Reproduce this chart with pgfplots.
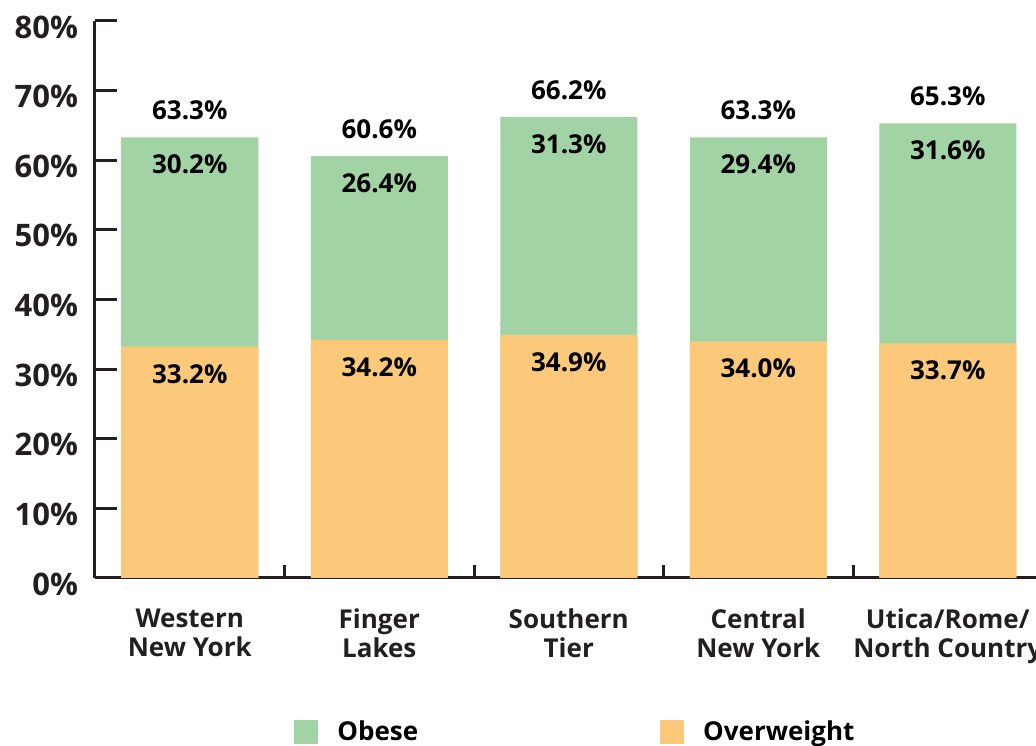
\documentclass[border=0pt]{standalone}
\usepackage{fontspec}
\setmainfont{Open Sans}
\usepackage{pgfplots}
\pgfplotsset{compat=1.18}
\definecolor{obese}{HTML}{A2D3A5}
\definecolor{overw}{HTML}{FCC97B}
\definecolor{ink}{HTML}{231F20}

% bar tops: total (overweight + obese) and overweight alone
\pgfplotstableread{
x  overw  obese  total
0  33.2   30.2   63.3
1  34.2   26.4   60.6
2  34.9   31.3   66.2
3  34.0   29.4   63.3
4  33.7   31.6   65.3
}\datatable

\begin{document}
\begin{tikzpicture}
\begin{axis}[
    name=ax,
    scale only axis,
    width=473.75pt, height=278.5pt,
    xmin=-0.5, xmax=4.5, ymin=0, ymax=80,
    ybar, bar width=68.5pt,
    axis x line=bottom, axis y line=left,
    axis line style={ink, line width=1.5pt, -},
    tick align=inside,
    tick style={ink, line width=1.5pt},
    major tick length=11pt,
    minor tick length=6.5pt,
    ytick={0,10,...,80},
    yticklabels={0\%,10\%,20\%,30\%,40\%,50\%,60\%,70\%,80\%},
    yticklabel style={font=\fontsize{15.5}{16}\selectfont\bfseries, text=ink, xshift=-5pt, yshift=-3pt},
    xtick={0,...,4},
    major x tick style={draw=none},
    minor xtick={0.5,1.5,2.5,3.5,4.5},
    xticklabels={{Western\\New York},{Finger\\Lakes},{Southern\\Tier},{Central\\New York},{Utica/Rome/\\North Country}},
    xticklabel style={align=center, anchor=north, yshift=-12pt, text=ink,
        font=\fontsize{13}{14.5}\selectfont\bfseries},
    nodes near coords={\pgfmathprintnumber[fixed, fixed zerofill, precision=1]{\pgfplotspointmeta}\%},
    /pgf/number format/assume math mode=true,
    every node near coord/.append style={font=\fontsize{13}{14}\selectfont\bfseries, text=black, anchor=center},
    legend image code/.code={\fill[#1] (0pt,-6pt) rectangle (12pt,6pt);},
    legend columns=2,
    legend style={at={(0,0)}, anchor=west, xshift=99.5pt, yshift=-77pt,
        draw=none, fill=none, inner sep=0pt,
        font=\fontsize{13}{14}\selectfont\bfseries,
        /tikz/every odd column/.append style={column sep=7.5pt},
        /tikz/every even column/.append style={column sep=119pt}},
]
\addlegendimage{fill=obese, draw=none}
\addlegendentry{Obese}
\addlegendimage{fill=overw, draw=none}
\addlegendentry{Overweight}

% full bar (green), with the total above it
\addplot[fill=obese, draw=none, bar shift=0pt, point meta=\thisrow{total},
    every node near coord/.append style={yshift=13.5pt}]
    table[x=x, y=total] {\datatable};
% overweight part (orange) over it
\addplot[fill=overw, draw=none, bar shift=0pt, point meta=\thisrow{overw},
    every node near coord/.append style={yshift=-13.5pt}]
    table[x=x, y=overw] {\datatable};
% obese share, written just under the top of the bar
\addplot[fill=none, draw=none, bar shift=0pt, point meta=\thisrow{obese},
    every node near coord/.append style={yshift=-13.5pt}]
    table[x=x, y=total] {\datatable};
\end{axis}
\pgfresetboundingbox
\path ([shift={(-47.5pt,-84pt)}]ax.south west) rectangle ([shift={(-3.25pt,10.5pt)}]ax.north east);
\end{tikzpicture}
\end{document}
